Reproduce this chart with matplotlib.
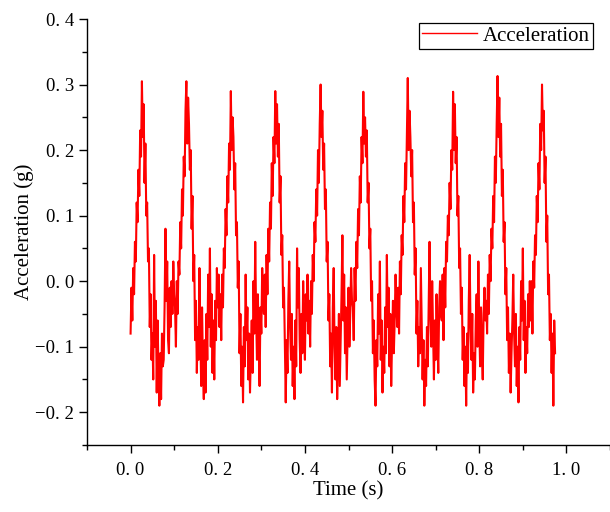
import matplotlib
matplotlib.use("Agg")
import matplotlib.pyplot as plt
import matplotlib.ticker as ticker
import numpy as np

plt.rcParams['font.family'] = ['Liberation Serif', 'DejaVu Serif']
plt.rcParams['axes.unicode_minus'] = True

dt = 0.002
accel = [
    # cycle 1
    -0.08, -0.01, -0.06, 0.02, -0.02, 0.06, 0.03, 0.12, 0.09, 0.17, 0.13, 0.23, 0.19, 0.305, 0.22, 0.27, 0.15,
    0.21, 0.10, 0.12, 0.03, 0.05, -0.07, -0.02, -0.12, -0.08, -0.15, 0.04, -0.10, -0.03, -0.17, -0.06, -0.14,
    -0.19, -0.11, -0.18, -0.08, -0.13, -0.12, -0.04, 0.08, -0.03, 0.03, -0.09, -0.11, -0.01, -0.07, 0.00, -0.05,
    0.03, -0.02,
    # cycle 2
    -0.04, -0.10, 0.00, -0.05, 0.03, 0.01, 0.09, 0.05, 0.14, 0.10, 0.19, 0.16, 0.26, 0.305, 0.21, 0.28, 0.24,
    0.17, 0.20, 0.08, 0.13, 0.00, 0.04, -0.09, -0.03, -0.14, -0.07, -0.12, 0.02, -0.08, -0.16, -0.04, -0.13,
    -0.18, -0.09, -0.17, -0.05, -0.12, 0.01, -0.07, 0.05, -0.10, -0.02, -0.14, -0.06, -0.15, -0.03, -0.09, 0.02,
    -0.04, 0.01,
    # cycle 3
    -0.07, -0.02, -0.09, 0.01, -0.04, 0.05, 0.02, 0.11, 0.07, 0.16, 0.12, 0.21, 0.17, 0.29, 0.20, 0.25, 0.22,
    0.14, 0.18, 0.07, 0.09, -0.01, 0.03, -0.11, -0.05, -0.16, -0.10, -0.185, -0.07, -0.13, 0.01, -0.09, -0.04,
    -0.15, -0.08, -0.17, -0.11, -0.06, -0.14, 0.00, -0.08, 0.06, -0.05, -0.12, -0.02, -0.10, -0.16, -0.04, -0.08,
    0.02, -0.03,
    # cycle 4
    -0.05, 0.01, -0.07, 0.04, -0.02, 0.08, 0.03, 0.12, 0.08, 0.18, 0.13, 0.22, 0.18, 0.29, 0.21, 0.27, 0.19,
    0.24, 0.12, 0.16, 0.04, 0.07, -0.04, -0.01, -0.10, -0.185, -0.09, -0.14, -0.03, 0.03, -0.07, -0.12, -0.05,
    -0.16, -0.10, -0.18, -0.06, -0.13, 0.05, -0.04, 0.02, -0.09, -0.14, -0.05, -0.11, 0.00, -0.07, -0.12, -0.02,
    -0.06, 0.01,
    # cycle 5
    -0.08, -0.03, -0.10, 0.00, -0.05, 0.04, 0.00, 0.09, 0.06, 0.14, 0.10, 0.20, 0.15, 0.24, 0.30, 0.22, 0.26,
    0.17, 0.21, 0.11, 0.14, 0.03, 0.06, -0.06, -0.02, -0.13, -0.08, -0.17, -0.04, 0.02, -0.10, -0.15, -0.07,
    -0.18, -0.12, -0.05, -0.16, -0.09, -0.02, 0.07, -0.06, 0.01, -0.11, -0.04, -0.15, -0.08, -0.01, -0.10, -0.05,
    0.02, -0.03,
    # cycle 6
    -0.04, -0.09, 0.02, -0.03, 0.06, 0.02, 0.11, 0.07, 0.16, 0.12, 0.22, 0.18, 0.289, 0.21, 0.25, 0.19, 0.23,
    0.12, 0.15, 0.05, 0.08, -0.03, 0.00, -0.11, -0.06, -0.15, -0.19, -0.09, -0.13, -0.02, -0.08, 0.03, -0.12,
    -0.06, -0.17, -0.10, -0.14, -0.04, -0.11, 0.04, -0.07, -0.01, -0.13, -0.05, -0.16, -0.09, -0.03, -0.11, -0.06,
    0.01, -0.04,
    # cycle 7
    -0.07, -0.01, -0.08, 0.03, -0.02, 0.07, 0.04, 0.13, 0.09, 0.18, 0.14, 0.23, 0.31, 0.20, 0.26, 0.22, 0.16,
    0.20, 0.09, 0.12, 0.01, 0.05, -0.08, -0.03, -0.13, -0.07, -0.11, 0.02, -0.06, -0.15, -0.09, -0.19, -0.12,
    -0.16, -0.07, -0.13, -0.03, 0.06, -0.05, -0.10, 0.00, -0.08, -0.15, -0.06, -0.12, -0.02, -0.09, -0.14, -0.04,
    0.00, -0.05,
    # cycle 8
    -0.06, 0.01, -0.09, 0.02, -0.04, 0.06, 0.03, 0.10, 0.07, 0.15, 0.11, 0.20, 0.17, 0.289, 0.20, 0.27, 0.18,
    0.22, 0.10, 0.13, 0.02, 0.05, -0.05, -0.01, -0.12, -0.07, -0.16, -0.10, -0.19, -0.08, -0.14, -0.03, 0.04,
    -0.07, -0.12, -0.05, -0.17, -0.11, -0.15, -0.06, -0.02, -0.10, 0.03, -0.07, -0.13, -0.04, -0.10, -0.15, -0.05,
    -0.01, -0.06,
    # cycle 9
    -0.03, -0.08, 0.01, -0.05, 0.04, 0.00, 0.08, 0.05, 0.13, 0.09, 0.19, 0.15, 0.24, 0.313, 0.22, 0.28, 0.19,
    0.24, 0.13, 0.17, 0.06, 0.09, -0.02, 0.02, -0.09, -0.04, -0.14, -0.08, -0.17, -0.11, -0.06, 0.01, -0.08,
    -0.13, -0.05, -0.16, -0.10, -0.185, -0.07, -0.12, 0.00, -0.06, 0.05, -0.09, -0.03, -0.14, -0.07, -0.11, -0.02,
    -0.07, 0.00,
    # cycle 10 (cut off)
    -0.06, 0.00, -0.08, 0.03, -0.01, 0.07, 0.04, 0.13, 0.09, 0.18, 0.14, 0.24, 0.20, 0.30, 0.23, 0.26, 0.15,
    0.19, 0.06, 0.10, -0.02, 0.01, -0.09, -0.05, -0.14, -0.08, -0.19, -0.06, -0.11,
]
t = np.arange(len(accel)) * dt


def fmt(v, pos):
    s = '%.1f' % v
    return s.replace('-', '\u2212').replace('.', '. ')


fig = plt.figure(figsize=(6.1, 5.12), dpi=100)
ax = fig.add_axes([87 / 610, 1 - 445 / 512, 523 / 610, 426 / 512])

ax.plot(t, accel, color='red', lw=1.5, label='Acceleration')

ax.set_xlim(-0.1, 1.1)
ax.set_ylim(-0.25, 0.4)
ax.xaxis.set_major_locator(ticker.MultipleLocator(0.2))
ax.xaxis.set_minor_locator(ticker.MultipleLocator(0.1))
ax.yaxis.set_major_locator(ticker.MultipleLocator(0.1))
ax.yaxis.set_minor_locator(ticker.MultipleLocator(0.05))
ax.xaxis.set_major_formatter(ticker.FuncFormatter(fmt))
ax.yaxis.set_major_formatter(ticker.FuncFormatter(fmt))

for side in ['top', 'right']:
    ax.spines[side].set_visible(False)
for side in ['left', 'bottom']:
    ax.spines[side].set_linewidth(1.0)

ax.tick_params(which='major', direction='out', length=6, width=1.0, labelsize=13.5)
ax.tick_params(axis='x', which='major', pad=6)
ax.tick_params(which='minor', direction='out', length=3.5, width=1.0)

ax.set_xlabel('Time (s)', fontsize=15, labelpad=2)
ax.set_ylabel('Acceleration (g)', fontsize=15, labelpad=1)

leg = ax.legend(loc='upper right', bbox_to_anchor=(0.9675, 0.991), borderaxespad=0,
                fontsize=15, fancybox=False, framealpha=1, edgecolor='black',
                handlelength=2.6, handletextpad=0.3, borderpad=0.15)
leg.get_frame().set_linewidth(0.9)
leg.get_lines()[0].set_linewidth(1.0)

fig.savefig('out.png', dpi=100)
